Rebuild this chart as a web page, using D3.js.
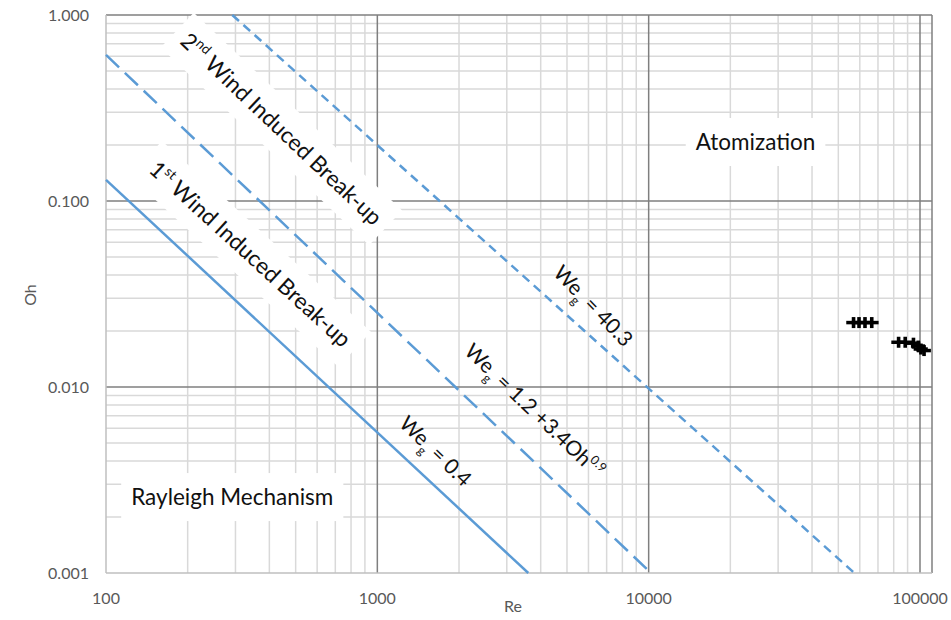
<!DOCTYPE html>
<html>
<head>
<meta charset="utf-8">
<script src="https://cdn.jsdelivr.net/npm/d3@7"></script>
<style>
  body { margin: 0; background: #fff; }
  svg { display: block; font-family: Lato, "Open Sans", sans-serif; }
</style>
</head>
<body>
<svg id="chart" width="951" height="620"></svg>
<script>
// axis ticks
const xTicks = [100, 1000, 10000, 100000];
const xTickLabels = ["100", "1000", "10000", "100000"];
const yTicks = [0.001, 0.01, 0.1, 1];
const yTickLabels = ["0.001", "0.010", "0.100", "1.000"];

// regime boundary lines (end points)
const boundaryNames = ["We_g = 0.4", "We_g = 1.2 +3.4Oh^0.9", "We_g = 40.3"];
const boundaryRe = [[100, 3600], [100, 10200], [292, 57300]];
const boundaryOh = [[0.13, 0.001], [0.61, 0.001], [1.0, 0.001]];

// measured jets
const sampleRe = [56900, 59600, 62700, 66400, 83400, 88200, 94600, 98500, 100800, 103500];
const sampleOh = [0.0222, 0.0222, 0.0222, 0.0222, 0.0174, 0.0174, 0.0172, 0.0166, 0.0160, 0.0157];
const sampleReErr = 0.06; // relative

const svg = d3.select("#chart");
const pLeft = 106, pRight = 920, plotRight = 932, pTop = 15, pBottom = 573;

const x = d3.scaleLog().domain([100, 100000]).range([pLeft, pRight]);
const y = d3.scaleLog().domain([0.001, 1]).range([pBottom, pTop]);

// minor gridlines
const minorX = [], minorY = [];
xTicks.slice(0, -1).forEach(d => { for (let m = 2; m <= 9; m++) minorX.push(d * m); });
yTicks.slice(0, -1).forEach(d => { for (let m = 2; m <= 9; m++) minorY.push(d * m); });

const grid = svg.append("g");
grid.selectAll(".mx").data(minorX).enter().append("line")
  .attr("x1", d => x(d)).attr("x2", d => x(d))
  .attr("y1", pTop).attr("y2", pBottom)
  .attr("stroke", "#d9d9d9").attr("stroke-width", 1.5);
grid.selectAll(".my").data(minorY).enter().append("line")
  .attr("x1", pLeft).attr("x2", plotRight)
  .attr("y1", d => y(d)).attr("y2", d => y(d))
  .attr("stroke", "#d9d9d9").attr("stroke-width", 1.5);

// major gridlines
grid.selectAll(".Mx").data(xTicks.slice(1)).enter().append("line")
  .attr("x1", d => x(d)).attr("x2", d => x(d))
  .attr("y1", pTop).attr("y2", pBottom)
  .attr("stroke", "#7f7f7f").attr("stroke-width", 1.5);
grid.selectAll(".My").data(yTicks.slice(1)).enter().append("line")
  .attr("x1", pLeft).attr("x2", plotRight)
  .attr("y1", d => y(d)).attr("y2", d => y(d))
  .attr("stroke", "#7f7f7f").attr("stroke-width", 1.5);
grid.append("line")
  .attr("x1", plotRight).attr("x2", plotRight).attr("y1", pTop).attr("y2", pBottom)
  .attr("stroke", "#7f7f7f").attr("stroke-width", 1.5);

const boxLayer = svg.append("g");

// axes lines
svg.append("line").attr("x1", pLeft).attr("x2", pLeft).attr("y1", pTop).attr("y2", pBottom)
  .attr("stroke", "#bfbfbf").attr("stroke-width", 1.5);
svg.append("line").attr("x1", pLeft).attr("x2", plotRight).attr("y1", pBottom).attr("y2", pBottom)
  .attr("stroke", "#bfbfbf").attr("stroke-width", 1.5);

// tick labels
svg.selectAll(".xl").data(xTicks).enter().append("text")
  .attr("x", d => x(d)).attr("y", 604)
  .attr("text-anchor", "middle")
  .attr("font-size", 16).attr("fill", "#595959")
  .text((d, i) => xTickLabels[i]);
svg.selectAll(".yl").data(yTicks).enter().append("text")
  .attr("x", 89).attr("y", d => y(d) + 6)
  .attr("text-anchor", "end")
  .attr("font-size", 16).attr("fill", "#595959")
  .text((d, i) => yTickLabels[i]);

svg.append("text").attr("x", 513).attr("y", 612).attr("text-anchor", "middle")
  .attr("font-size", 16).attr("fill", "#595959").text("Re");
svg.append("text").attr("transform", "translate(36,295) rotate(-90)").attr("text-anchor", "middle")
  .attr("font-size", 16).attr("fill", "#595959").text("Oh");

// text with sub/superscripts: parts = [text, "sup"|"sub"|null]
// centred vertically on the anchor (baseline at +0.35em)
function richText(g, parts, size) {
  const t = g.append("text").attr("text-anchor", "middle")
    .attr("font-size", size).attr("fill", "#111");
  const base = 0.35 * size;
  let shift = 0;
  parts.forEach(([s, kind]) => {
    const target = base + (kind === "sup" ? -0.42 * size : kind === "sub" ? 0.3 * size : 0);
    t.append("tspan")
      .attr("dy", target - shift)
      .attr("font-size", kind ? size * 0.6 : size)
      .text(s);
    shift = target;
  });
  return t;
}

const lineLayer = svg.append("g");
const textLayer = svg.append("g");

// region labels (white background like the original text boxes)
const regionLabels = [
  { parts: [["2", null], ["nd", "sup"], [" Wind Induced Break-up", null]], re: 443, oh: 0.244, angle: 43.5, size: 22.5 },
  { parts: [["1", null], ["st", "sup"], [" Wind Induced Break-up", null]], re: 340, oh: 0.0519, angle: 42.4, size: 22.5 },
  { parts: [["Atomization", null]], re: 24770, oh: 0.2076, angle: 0, size: 22.5 },
  { parts: [["Rayleigh Mechanism", null]], re: 292, oh: 0.00256, angle: 0, size: 22.5 }
];
// boundary labels, same order as boundaryNames
const boundaryLabelParts = [
  [["We", null], ["g", "sub"], [" = 0.4", null]],
  [["We", null], ["g", "sub"], [" = 1.2 +3.4Oh", null], ["0.9", "sup"]],
  [["We", null], ["g", "sub"], [" = 40.3", null]]
];
const boundaryLabelPos = [
  { re: 1640, oh: 0.00452, angle: 43.9 },
  { re: 3800, oh: 0.00745, angle: 43.7 },
  { re: 6250, oh: 0.0273, angle: 46 }
];

regionLabels.forEach(l => {
  const tr = `translate(${x(l.re)},${y(l.oh)}) rotate(${l.angle})`;
  const g = textLayer.append("g").attr("transform", tr);
  const t = richText(g, l.parts, l.size);
  const w = t.node().getComputedTextLength();
  boxLayer.append("rect")
    .attr("transform", tr)
    .attr("x", -w / 2 - 10).attr("y", -24)
    .attr("width", w + 20).attr("height", 48)
    .attr("fill", "#fff");
});

boundaryLabelParts.forEach((p, i) => {
  const pos = boundaryLabelPos[i];
  const g = textLayer.append("g")
    .attr("transform", `translate(${x(pos.re)},${y(pos.oh)}) rotate(${pos.angle})`);
  richText(g, p, 21).attr("data-name", boundaryNames[i]);
});

// boundary lines
const dashes = [null, "18,8", "9,6"];
const line = d3.line().x(d => x(d[0])).y(d => y(d[1]));
boundaryNames.forEach((n, i) => {
  const pts = boundaryRe[i].map((r, j) => [r, boundaryOh[i][j]]);
  lineLayer.append("path")
    .attr("d", line(pts))
    .attr("fill", "none")
    .attr("stroke", "#5b9bd5")
    .attr("stroke-width", 2.5)
    .attr("stroke-dasharray", dashes[i]);
});

// measured points with horizontal error bars
const ptsLayer = svg.append("g");
sampleRe.forEach((r, i) => {
  const cy = y(sampleOh[i]);
  ptsLayer.append("line")
    .attr("x1", x(r * (1 - sampleReErr))).attr("x2", x(r * (1 + sampleReErr)))
    .attr("y1", cy).attr("y2", cy)
    .attr("stroke", "#000").attr("stroke-width", 3.5);
  ptsLayer.append("rect")
    .attr("x", x(r) - 1.8).attr("y", cy - 5.5)
    .attr("width", 3.6).attr("height", 11)
    .attr("fill", "#000");
});
</script>
</body>
</html>
